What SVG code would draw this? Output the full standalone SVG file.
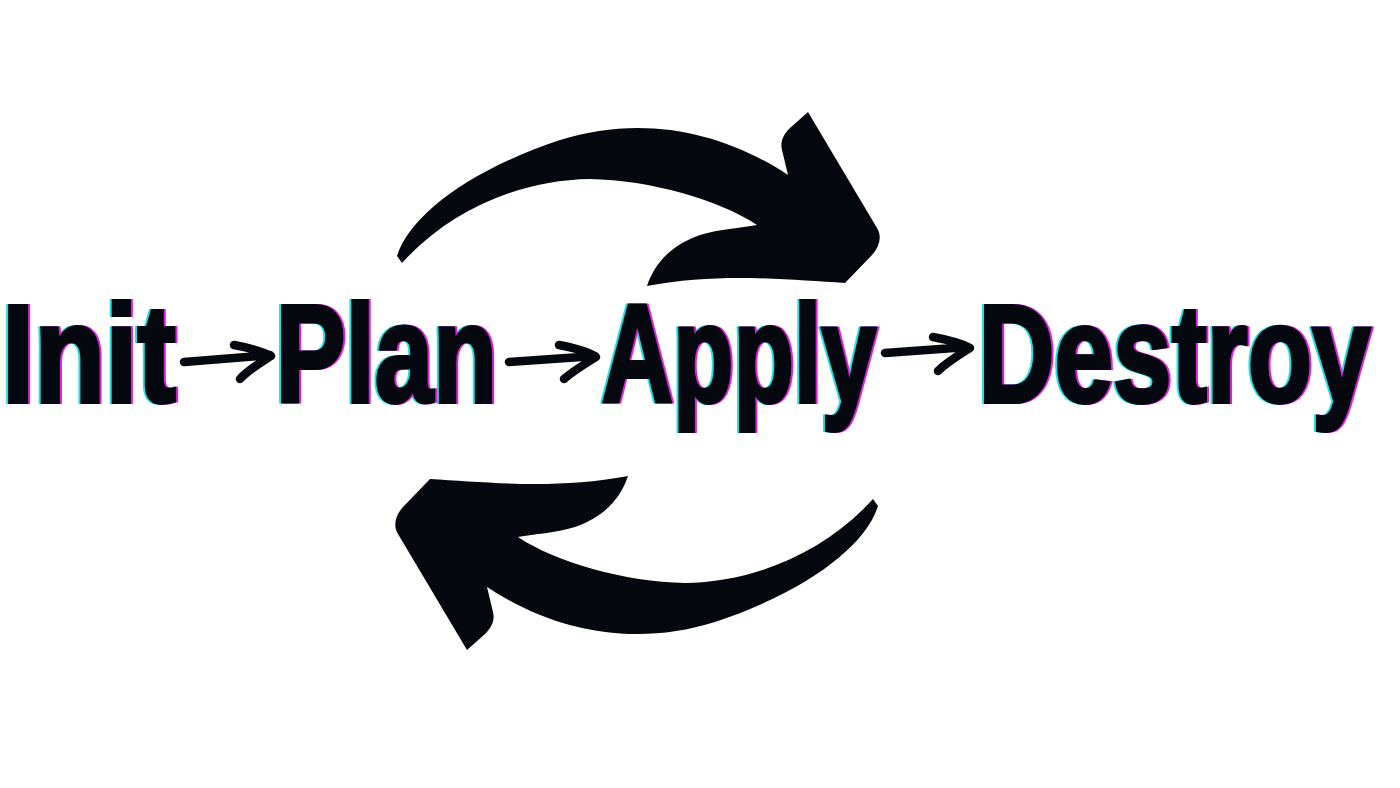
<svg xmlns="http://www.w3.org/2000/svg" width="1400" height="788" viewBox="0 0 1400 788">
  <style>
    .node { filter: url(#glitch); }
    .w { font-family: "Liberation Sans", Arial, sans-serif; font-weight: bold; font-size: 140px; fill: #05080e; stroke: #05080e; stroke-width: 4px; stroke-linejoin: miter; }
    .sa { fill: none; stroke: #05080e; stroke-width: 8.5; stroke-linecap: round; stroke-linejoin: round; }
    .big { fill: #05080e; }
  </style>
  <defs>
    <filter id="glitch" x="-5%" y="-10%" width="110%" height="120%" color-interpolation-filters="sRGB">
      <feOffset in="SourceAlpha" dx="-2" dy="0" result="o1"/>
      <feFlood flood-color="#19e3e6" result="f1"/>
      <feComposite in="f1" in2="o1" operator="in" result="cy"/>
      <feOffset in="SourceAlpha" dx="2" dy="0" result="o2"/>
      <feFlood flood-color="#e01ee0" result="f2"/>
      <feComposite in="f2" in2="o2" operator="in" result="mg"/>
      <feMerge>
        <feMergeNode in="cy"/>
        <feMergeNode in="mg"/>
        <feMergeNode in="SourceGraphic"/>
      </feMerge>
    </filter>
    <path id="bigArrow" d="M397,256 C410,215 470,170 560,140 C640,115 720,130 788,175 L782,150 C780,142 783,135 790,128 L808,112 L877,228 C882,236 880,246 872,255 L845,283 C790,280 720,272 647,286 C655,262 672,245 700,235 C720,229 740,228 757,225 C720,200 650,180 590,179 C520,180 450,210 402,263 Z"/>
  </defs>
  <rect width="1400" height="788" fill="#ffffff"/>

  <g id="connectors">
    <use href="#bigArrow" class="big"/>
    <use href="#bigArrow" class="big" transform="rotate(180 637.5 381)"/>
    <path class="sa" d="M184,362 L270,355 M234,345 C250,348 262,351 271,356 C260,363 248,370 240,379"/>
    <path class="sa" d="M509,362 L595,356 M559,345 C575,348 587,351 596,357 C585,364 573,371 564,379"/>
    <path class="sa" d="M885,353 L968,347 M933,337 C949,340 961,343 970,348 C959,355 947,362 938,371"/>
  </g>

  <g id="init" class="node">
    <text class="w" x="0" y="0" transform="translate(2,402) scale(0.829,1)">Init</text>
  </g>
  <g id="plan" class="node">
    <text class="w" x="0" y="0" transform="translate(275.5,402) scale(0.75,1)">Plan</text>
  </g>
  <g id="apply" class="node">
    <text class="w" x="0" y="0" transform="translate(601.5,402) scale(0.707,1)">Apply</text>
  </g>
  <g id="destroy" class="node">
    <text class="w" x="0" y="0" transform="translate(978.5,402) scale(0.752,1)">Destroy</text>
  </g>
</svg>
